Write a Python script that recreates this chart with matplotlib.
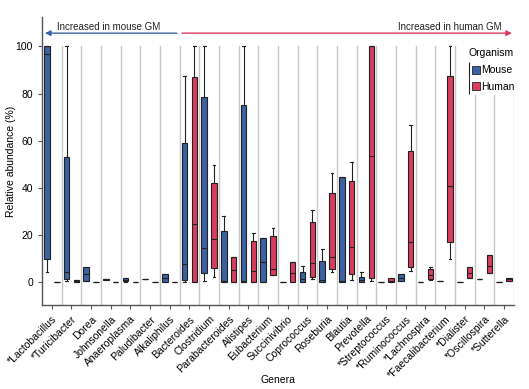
import numpy as np
import matplotlib
matplotlib.use("Agg")
import matplotlib.pyplot as plt
from matplotlib.lines import Line2D
from matplotlib.legend_handler import HandlerTuple

plt.rcParams['font.family'] = ['Liberation Sans', 'DejaVu Sans']

# genera, ordered from "increased in mouse" to "increased in human"
genera = ['*Lactobacillus', '*Turicibacter', 'Dorea', 'Johnsonella', 'Anaeroplasma',
          'Paludibacter', 'Alkaliphilus', 'Bacteroides', 'Clostridium', 'Parabacteroides',
          'Alistipes', 'Eubacterium', 'Succinivibrio', 'Coprococcus', 'Roseburia',
          'Blautia', 'Prevotella', '*Streptococcus', '*Ruminococcus', '*Lachnospira',
          '*Faecalibacterium', '*Dialister', '*Oscillospira', '*Sutterella']

# mouse box stats (%)
mouse_lo  = [4.5, 0.5, 0.5, 0.9, 0.3, 1.3, 0.1, 0.2, 0.7, 0.0, 0.0, 0.0, 0.0, 0.0, 0.0, 0.0, 0.0, 0.0, 0.6, 0.3, 0.4, 0.0, 1.3, 0.0]
mouse_q1  = [9.7, 1.3, 0.6, 0.9, 0.4, 1.3, 0.2, 1.0, 3.8, 0.1, 0.2, 0.1, 0.0, 0.1, 0.1, 0.1, 0.1, 0.0, 0.6, 0.3, 0.4, 0.0, 1.3, 0.0]
mouse_med = [96.7, 4.5, 3.4, 1.2, 1.0, 1.4, 2.0, 7.6, 14.4, 0.7, 0.5, 8.5, 0.0, 1.3, 1.0, 0.5, 1.0, 0.0, 2.0, 0.3, 0.4, 0.0, 1.3, 0.0]
mouse_q3  = [100, 53, 6.4, 1.6, 2.0, 1.5, 3.4, 58.9, 78.6, 21.7, 75.1, 18.6, 0.0, 4.2, 9.0, 44.7, 2.4, 0.0, 3.4, 0.3, 0.4, 0.0, 1.3, 0.0]
mouse_hi  = [100, 100, 6.4, 1.6, 2.0, 1.5, 3.4, 87.4, 100, 28.1, 100, 18.6, 0.0, 6.9, 14.2, 44.7, 4.5, 0.0, 3.4, 0.3, 0.4, 0.0, 1.3, 0.0]

# human box stats (%)
human_lo  = [0.0, 0.2, 0.0, 0.0, 0.0, 0.0, 0.0, 0.0, 2.4, 0.1, 0.2, 3.0, 0.0, 1.4, 4.5, 1.0, 0.6, 0.0, 4.8, 1.0, 9.9, 1.7, 3.8, 0.6]
human_q1  = [0.0, 0.2, 0.0, 0.0, 0.0, 0.0, 0.0, 0.3, 5.9, 0.1, 0.2, 3.0, 0.0, 2.4, 5.6, 3.4, 1.7, 0.0, 6.4, 1.4, 16.9, 1.7, 3.8, 0.6]
human_med = [0.0, 0.5, 0.0, 0.0, 0.0, 0.0, 0.0, 24.7, 18.2, 5.2, 4.8, 5.8, 3.8, 8.0, 10.8, 14.8, 53.6, 0.5, 17.1, 3.0, 41.0, 3.8, 7.0, 1.2]
human_q3  = [0.0, 0.8, 0.0, 0.0, 0.0, 0.0, 0.0, 87.1, 41.9, 10.9, 17.6, 19.6, 8.6, 25.7, 37.7, 43.1, 100, 1.7, 55.8, 5.8, 87.4, 6.6, 11.4, 1.7]
human_hi  = [0.0, 0.8, 0.0, 0.0, 0.0, 0.0, 0.0, 100, 49.7, 10.9, 20.8, 23.1, 8.6, 30.6, 46.5, 51.1, 100, 1.7, 66.7, 6.6, 100, 6.6, 11.4, 1.7]

mouse_color = '#3b62a3'
human_color = '#d93d5e'
edge = '#222222'


def stats(lo, q1, med, q3, hi):
    return [dict(whislo=a, q1=b, med=c, q3=d, whishi=e, fliers=[])
            for a, b, c, d, e in zip(lo, q1, med, q3, hi)]


fig = plt.figure(figsize=(5.29, 3.89), dpi=100)
ax = fig.add_axes([0.0794, 0.216, 0.892, 0.740])

x = np.arange(len(genera))

# vertical separators between genera
for b in np.arange(len(genera)) + 0.5:
    ax.plot([b, b], [-12, 100], color='#c8c8c8', lw=1.0, zorder=0)

for data, col, off in [(stats(mouse_lo, mouse_q1, mouse_med, mouse_q3, mouse_hi), mouse_color, -0.25),
                       (stats(human_lo, human_q1, human_med, human_q3, human_hi), human_color, 0.25)]:
    ax.bxp(data, positions=x + off, widths=0.28, patch_artist=True, showfliers=False,
           boxprops=dict(facecolor=col, edgecolor=edge, lw=0.8),
           medianprops=dict(color=edge, lw=0.8),
           whiskerprops=dict(color=edge, lw=0.8),
           capprops=dict(color=edge, lw=0.8), manage_ticks=False, zorder=2)

ax.set_xlim(-0.5, len(genera) - 0.5)
ax.set_ylim(-9.6, 112.4)
ax.set_yticks([0, 20, 40, 60, 80, 100])
ax.set_xticks(x)
ax.set_xticklabels(genera, rotation=45, ha='right', rotation_mode='anchor', fontsize=7.5)
ax.tick_params(axis='y', labelsize=7.5, length=3, width=0.8, color='#555555')
ax.tick_params(axis='x', length=3, width=0.8, color='#555555')
for s in ['top', 'right']:
    ax.spines[s].set_visible(False)
for s in ['left', 'bottom']:
    ax.spines[s].set_color('#555555')
    ax.spines[s].set_linewidth(1.0)

ax.set_ylabel('Relative abundance (%)', fontsize=7.5)
ax.yaxis.set_label_coords(-0.055, 0.5)
ax.set_xlabel('Genera', fontsize=7.5)
ax.xaxis.set_label_coords(0.5, -0.243)

# direction arrows
ax.annotate('', xy=(-0.35, 105.6), xytext=(6.36, 105.6),
            arrowprops=dict(arrowstyle='-|>', color=mouse_color, lw=1.0,
                            mutation_scale=8, shrinkA=0, shrinkB=0))
ax.annotate('', xy=(23.4, 105.6), xytext=(6.62, 105.6),
            arrowprops=dict(arrowstyle='-|>', color=human_color, lw=1.0,
                            mutation_scale=8, shrinkA=0, shrinkB=0))
ax.text(2.9, 108.3, 'Increased in mouse GM', fontsize=7, ha='center', va='center', color='#222222')
ax.text(22.9, 108.3, 'Increased in human GM', fontsize=7, ha='right', va='center', color='#222222')

# legend with small box glyphs
def glyph(col):
    return (Line2D([], [], color=edge, lw=0, marker='|', markersize=11, markeredgewidth=0.8),
            Line2D([], [], color=col, lw=0, marker='s', markersize=6,
                   markeredgecolor=edge, markeredgewidth=0.6))

leg = ax.legend([glyph(mouse_color), glyph(human_color)], ['Mouse', 'Human'],
                handler_map={tuple: HandlerTuple(ndivide=None)},
                title='Organism', fontsize=7.5, title_fontsize=7.5,
                loc='upper right', bbox_to_anchor=(1.02, 0.92), frameon=True,
                handlelength=1.0, handletextpad=0.4, labelspacing=0.65, borderpad=0.3)
leg.get_frame().set_edgecolor('none')
leg.get_frame().set_facecolor('white')
leg.get_frame().set_alpha(1)

fig.savefig('out.png', dpi=100)
